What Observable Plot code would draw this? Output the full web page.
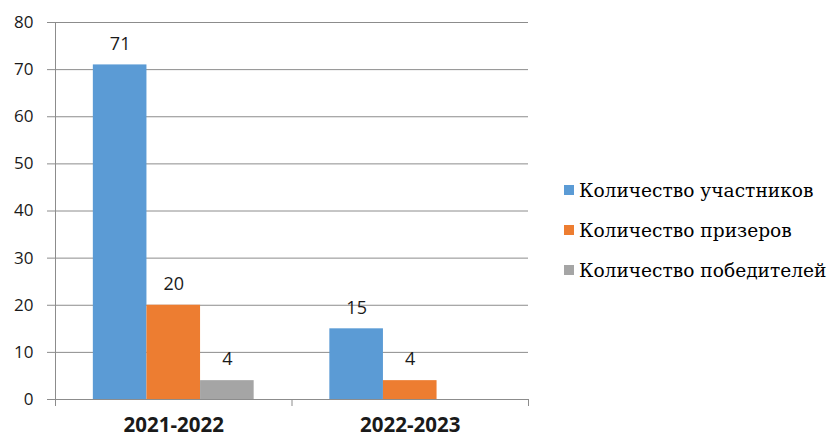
<!DOCTYPE html>
<html><head><meta charset="utf-8">
<script src="https://cdn.jsdelivr.net/npm/d3@7"></script>
<script src="https://cdn.jsdelivr.net/npm/@observablehq/plot@0.6"></script>
<style>
body{margin:0;background:#fff;}
#chart{position:relative;width:830px;height:439px;overflow:hidden;}
#legend{position:absolute;left:564px;top:170px;font-family:"DejaVu Serif",serif;font-size:18.6px;color:#000;}
#legend .row{height:40px;display:flex;align-items:center;white-space:nowrap;}
#legend .sw{width:10px;height:10px;margin-right:5px;flex:none;}
</style></head><body><div id="chart"></div>
<script>
const years = ["2021-2022", "2022-2023"];
const series = ["Количество участников", "Количество призеров", "Количество победителей"];
const participants = [71, 15];
const prizewinners = [20, 4];
const winners = [4, null];
const colors = ["#5B9BD5", "#ED7D31", "#A5A5A5"];
const yTicks = [0, 10, 20, 30, 40, 50, 60, 70, 80];

const values = [participants, prizewinners, winners];
const rows = [];
years.forEach((y, gi) => series.forEach((s, si) => {
  const v = values[si][gi];
  if (v != null) rows.push({year: y, gi, series: s, si, value: v});
}));

const groupPad = 0.16;
const bw = (1 - 2 * groupPad) / series.length;
const x1 = d => d.gi + groupPad + d.si * bw;
const x2 = d => x1(d) + bw;
const xc = d => x1(d) + bw / 2;
const grid = "#8c8c8c";

const chart = Plot.plot({
  width: 830, height: 439,
  marginLeft: 55, marginRight: 302, marginTop: 22, marginBottom: 40,
  style: {fontFamily: "'Open Sans', sans-serif", background: "#fff"},
  x: {type: "linear", domain: [0, years.length]},
  y: {domain: [0, 80]},
  color: {domain: series, range: colors},
  marks: [
    Plot.gridY(yTicks, {stroke: grid, strokeOpacity: 1}),
    Plot.axisY({ticks: yTicks, tickSize: 8, tickPadding: 14, stroke: grid, fill: "#1a1a1a", fontSize: 17, label: null}),
    Plot.rect(rows, {x1, x2, y1: 0, y2: "value", fill: "series"}),
    Plot.ruleX([0], {stroke: grid}),
    Plot.axisX({ticks: d3.range(years.length + 1), tickSize: 7, stroke: grid, tickFormat: () => "", label: null}),
    Plot.text(years, {x: (d, i) => i + 0.5, frameAnchor: "bottom", dy: 32, text: d => d, fontSize: 20.5, fontWeight: "bold", fill: "#1a1a1a"}),
    Plot.text(rows, {x: xc, y: "value", dy: -21, text: "value", fontSize: 18, fill: "#1a1a1a"})
  ]
});
const el = document.getElementById("chart");
el.appendChild(chart);
const lg = document.createElement("div");
lg.id = "legend";
series.forEach((s, i) => {
  const r = document.createElement("div");
  r.className = "row";
  r.innerHTML = `<span class="sw" style="background:${colors[i]}"></span><span>${s}</span>`;
  lg.appendChild(r);
});
el.appendChild(lg);
</script></body></html>
